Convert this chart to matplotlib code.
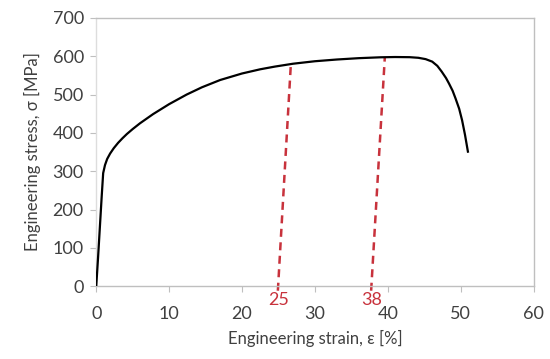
import numpy as np
import matplotlib.pyplot as plt

# Curva tensión-deformación
strain = [0.0, 0.25, 0.5, 0.75, 0.95, 1.2, 1.5, 1.9, 2.4, 3.0, 3.6, 4.2, 5.0,
          6.0, 7.8, 10.0, 12.4, 14.5, 17.0, 20.0, 22.5, 24.5, 27.0, 30.0, 33.0,
          36.0, 39.0, 41.0, 43.0, 44.2, 45.2, 46.1, 46.8, 47.4, 48.0, 48.4,
          48.9, 49.3, 49.8, 50.2, 50.6, 51.0]
stress = [0, 75, 155, 235, 295, 316, 332, 346, 360, 374, 386, 397, 410,
          425, 449, 475, 500, 519, 538, 555, 566, 573, 580.5, 587, 591.5,
          595, 597.3, 598, 597.6, 596, 592.5, 586, 575, 560, 543, 529,
          510, 490, 463, 433, 395, 351]

# Líneas discontinuas: (x abajo, x arriba, y arriba, etiqueta)
dash_bottom = [25.0, 37.8]
dash_top = [26.7, 39.6]
dash_top_y = [578, 598]
dash_labels = ['25', '38']

red = '#C8323C'
grey = '#BFBFBF'
txt = '#404040'

plt.rcParams['font.family'] = ['Lato', 'DejaVu Sans']

fig, ax = plt.subplots(figsize=(5.5, 3.59), dpi=100)
fig.subplots_adjust(left=0.175, right=0.97, bottom=0.203, top=0.95)

ax.plot(strain, stress, color='black', lw=1.6, zorder=3)

for xb, xt, yt, lab in zip(dash_bottom, dash_top, dash_top_y, dash_labels):
    ax.plot([xb - 0.08, xt], [-12, yt], color=red, lw=1.8, ls=(0, (3.2, 2.2)),
            clip_on=False, zorder=2)
    ax.text(xb, -36, lab, color=red, fontsize=13, ha='center', va='center')

ax.set_xlim(0, 60)
ax.set_ylim(0, 700)
ax.set_xticks(range(0, 61, 10))
ax.set_yticks(range(0, 701, 100))

for s in ax.spines.values():
    s.set_color(grey)
    s.set_linewidth(1.0)
ax.spines['left'].set_color('#DDDDDD')

ax.tick_params(axis='both', colors=grey, labelcolor=txt, labelsize=13, length=4)
ax.tick_params(axis='x', pad=10)
ax.tick_params(axis='y', pad=5)

ax.set_xlabel('Engineering strain, ε [%]', fontsize=12, color=txt, labelpad=6)
ax.set_ylabel('Engineering stress, σ [MPa]', fontsize=12, color=txt, labelpad=8)

fig.savefig('out.png', dpi=100)
